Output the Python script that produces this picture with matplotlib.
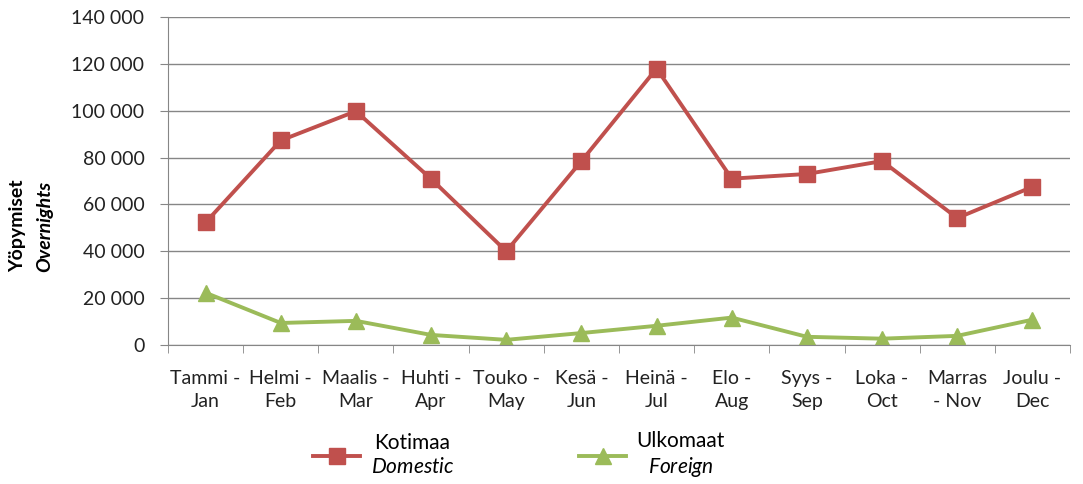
import matplotlib.pyplot as plt
import numpy as np
from matplotlib.ticker import FuncFormatter

plt.rcParams['font.family'] = ['Lato', 'DejaVu Sans']
plt.rcParams['mathtext.fontset'] = 'custom'
plt.rcParams['mathtext.it'] = 'Lato:italic'
plt.rcParams['mathtext.rm'] = 'Lato'

months = ['Tammi -\nJan', 'Helmi -\nFeb', 'Maalis -\nMar', 'Huhti -\nApr', 'Touko -\nMay',
          'Kesä -\nJun', 'Heinä -\nJul', 'Elo -\nAug', 'Syys -\nSep', 'Loka -\nOct',
          'Marras\n- Nov', 'Joulu -\nDec']
domestic = [52300, 87300, 99800, 70900, 40000, 78500, 118000, 71000, 73000, 78500, 54200, 67500]
foreign = [22300, 9400, 10300, 4300, 2200, 5100, 8200, 11700, 3500, 2700, 3900, 10800]

red = '#C0504D'
green = '#9BBB59'
gridc = '#868686'

fig = plt.figure(figsize=(10.83, 4.84), dpi=100)
ax = fig.add_axes([168/1083, 1-345/484, (1070-168)/1083, 328/484])

x = np.arange(len(months))
ax.plot(x, domestic, color=red, lw=2.8, marker='s', ms=12, label='Kotimaa\n$\\mathit{Domestic}$')
ax.plot(x, foreign, color=green, lw=2.8, marker='^', ms=12, label='Ulkomaat\n$\\mathit{Foreign}$')

ax.set_xlim(-0.5, 11.5)
ax.set_ylim(0, 140000)
ax.set_yticks(np.arange(0, 140001, 20000))
ax.yaxis.set_major_formatter(FuncFormatter(lambda v, p: f'{int(v):,}'.replace(',', ' ')))
ax.grid(axis='y', color=gridc, lw=1)
ax.set_axisbelow(True)

ax.set_xticks(x)
ax.set_xticklabels(months, linespacing=1.4)
ax.set_xticks(np.arange(-0.5, 12, 1), minor=True)
ax.tick_params(axis='x', which='major', length=0, pad=18, labelsize=14, colors='#222222')
ax.tick_params(axis='x', which='minor', length=6, color=gridc, direction='out')
ax.tick_params(axis='y', length=6, color=gridc, labelsize=14, labelcolor='#222222', pad=11)

for s in ['top', 'right']:
    ax.spines[s].set_visible(False)
ax.spines['left'].set_color(gridc)
ax.spines['bottom'].set_color(gridc)

fig.text(18/1083, 1-226/484, 'Yöpymiset', rotation=90, fontsize=14, fontweight='bold',
         ha='center', va='center')
fig.text(45/1083, 1-226/484, 'Overnights', rotation=90, fontsize=14, fontweight='bold',
         style='italic', ha='center', va='center')

leg = fig.legend(loc='center', bbox_to_anchor=(519/1083, 1-455/484), ncol=2, frameon=False,
                 fontsize=15, handlelength=2.25, columnspacing=6.0, handletextpad=0.5)
for t in leg.get_texts():
    t.set_multialignment('center')

fig.savefig('out.png', dpi=100)
